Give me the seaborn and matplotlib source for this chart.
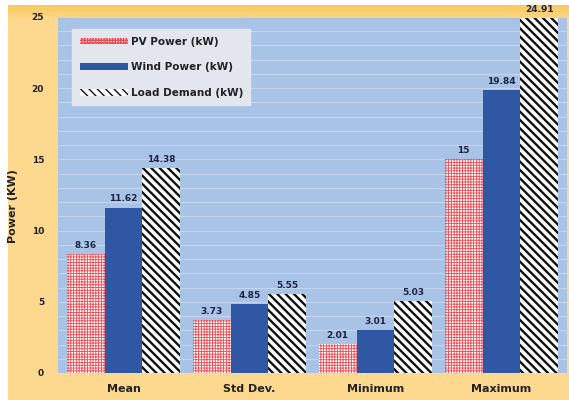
import numpy as np
import pandas as pd
import matplotlib
matplotlib.use("Agg")
import matplotlib.pyplot as plt
from matplotlib.patches import Rectangle
import seaborn as sns

# Summary statistics of the hybrid system
stats = ["Mean", "Std Dev.", "Minimum", "Maximum"]
pv_power = [8.36, 3.73, 2.01, 15]
wind_power = [11.62, 4.85, 3.01, 19.84]
load_demand = [14.38, 5.55, 5.03, 24.91]
series_names = ["PV Power (kW)", "Wind Power (kW)", "Load Demand (kW)"]
value_text = [
    ["8.36", "3.73", "2.01", "15"],
    ["11.62", "4.85", "3.01", "19.84"],
    ["14.38", "5.55", "5.03", "24.91"],
]

df = pd.DataFrame({
    "stat": stats * 3,
    "value": pv_power + wind_power + load_demand,
    "series": [s for s in series_names for _ in stats],
})

sns.set_theme(style="white")
plt.rcParams["font.family"] = ["DejaVu Sans"]

fig = plt.figure(figsize=(5.69, 4.0), dpi=100, facecolor="white")

# warm backdrop panel with a brighter band along its top edge
bg = fig.add_axes([0, 0, 1, 1], zorder=-10)
bg.set_axis_off()
bg.set_xlim(0, 1)
bg.set_ylim(0, 1)
bg.add_patch(Rectangle((8 / 569, 0), 1, 395 / 400, color="#FDD98F", lw=0))
grad = np.linspace(0, 1, 50).reshape(-1, 1)
band_cmap = matplotlib.colors.LinearSegmentedColormap.from_list(
    "band", ["#FDD98F", "#F9CB5C"])
bg.imshow(grad, extent=(8 / 569, 1, 380 / 400, 395 / 400), aspect="auto",
          cmap=band_cmap, origin="lower", zorder=1)

ax = fig.add_axes([58 / 569, 27 / 400, 509 / 569, 356 / 400])
ax.set_facecolor("#A9C3E7")

palette = {"PV Power (kW)": "white", "Wind Power (kW)": "#2F57A3",
           "Load Demand (kW)": "white"}
sns.barplot(data=df, x="stat", y="value", hue="series", order=stats,
            hue_order=series_names, palette=palette, width=0.9,
            saturation=1, ax=ax, legend=False, zorder=3)

styles = [
    dict(hatch="++++++", edgecolor="#F04A52", hlw=0.6),
    dict(hatch=None, edgecolor="#2F57A3", hlw=1.0),
    dict(hatch="\\\\\\\\", edgecolor="#111111", hlw=1.7),
]
for cont, st, texts in zip(ax.containers, styles, value_text):
    for p in cont.patches:
        p.set_linewidth(0)
        p.set_edgecolor(st["edgecolor"])
        if st["hatch"]:
            p.set_hatch(st["hatch"])
            if hasattr(p, "set_hatch_linewidth"):
                p.set_hatch_linewidth(st["hlw"])
    ax.bar_label(cont, labels=texts, padding=3, fontsize=6.5,
                 fontweight="bold", color="#1C2442")

ax.set_ylim(0, 25)
ax.set_xlim(-0.52, 3.52)
ax.set_yticks([0, 5, 10, 15, 20, 25])
ax.set_yticks(np.arange(0, 26, 1), minor=True)
ax.grid(axis="y", which="both", color="#C3D5EF", lw=0.8, zorder=0)
ax.set_axisbelow(True)
for s in ax.spines.values():
    s.set_visible(False)

ax.tick_params(axis="y", which="both", labelsize=6.5, pad=10, length=0,
               colors="#222222")
ax.tick_params(axis="x", labelsize=8, pad=8, length=0, colors="#222222")
for t in ax.get_yticklabels() + ax.get_xticklabels():
    t.set_fontweight("bold")
ax.set_xlabel("")
ax.set_ylabel("Power (KW)", fontsize=8, fontweight="bold", color="#222222")
ax.yaxis.set_label_coords(-40 / 509, 0.47)

leg = ax.legend(ax.containers, series_names, loc="upper left",
                bbox_to_anchor=(0.018, 0.98), fontsize=7.5, frameon=True,
                handlelength=4.6, handleheight=0.6, labelspacing=1.5,
                handletextpad=0.3, borderpad=0.7, fancybox=False)
leg.get_frame().set_facecolor("#E4E6EE")
leg.get_frame().set_edgecolor("#E4E6EE")
leg.get_frame().set_alpha(1)
for t in leg.get_texts():
    t.set_fontweight("bold")
    t.set_color("#222222")

fig.savefig("out.png", dpi=100)
